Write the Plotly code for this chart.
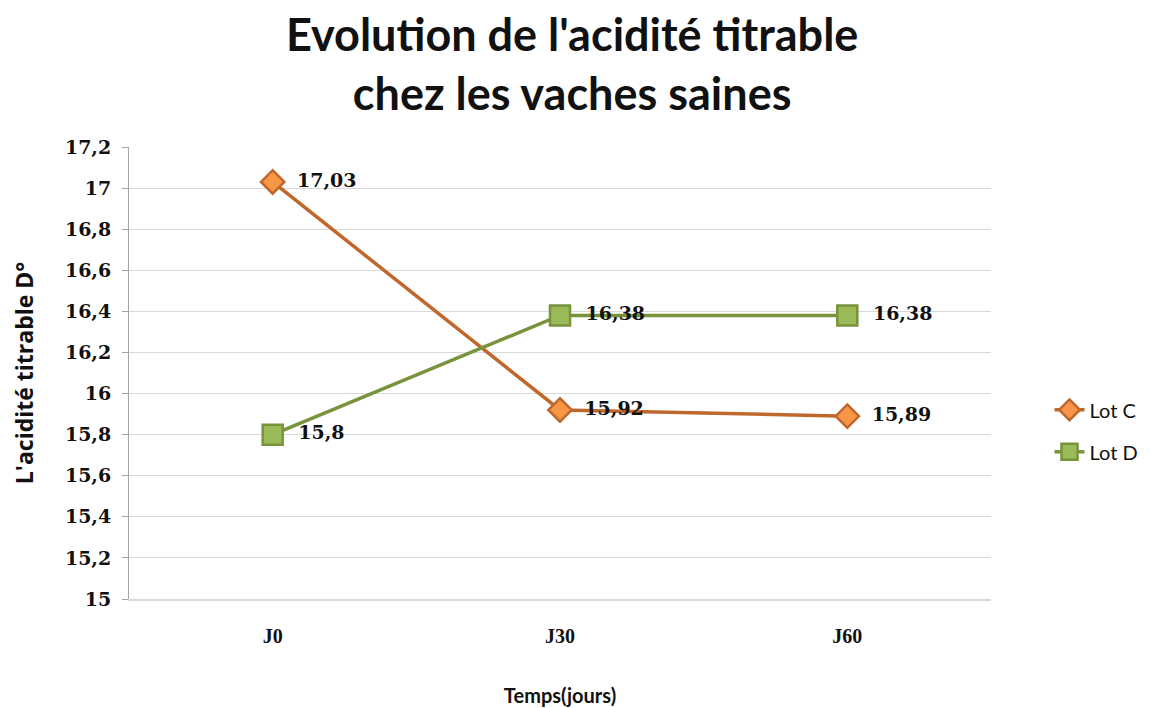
import plotly.graph_objects as go

# data
temps = ["J0", "J30", "J60"]
lot_c = [17.03, 15.92, 15.89]
lot_d = [15.8, 16.38, 16.38]
lot_c_labels = ["17,03", "15,92", "15,89"]
lot_d_labels = ["15,8", "16,38", "16,38"]

LABEL_FONT = dict(family="DejaVu Serif", size=19, color="#111111")


def main():
    fig = go.Figure()
    fig.add_trace(go.Scatter(
        x=temps, y=lot_c, name="Lot C", mode="lines+markers+text",
        text=lot_c_labels, texttemplate="\u00a0\u00a0<b>%{text}</b>",
        textposition="middle right", textfont=LABEL_FONT,
        line=dict(color="#C0672B", width=3.5),
        marker=dict(symbol="diamond", size=18, color="#F79646",
                    line=dict(color="#C0672B", width=2.5)),
        legendgroup="c",
    ))
    fig.add_trace(go.Scatter(
        x=temps, y=lot_d, name="Lot D", mode="lines+markers+text",
        text=lot_d_labels, texttemplate="\u00a0\u00a0<b>%{text}</b>",
        textposition="middle right", textfont=LABEL_FONT,
        line=dict(color="#77933C", width=3.5),
        marker=dict(symbol="square", size=20, color="#9BBB59",
                    line=dict(color="#77933C", width=2.5)),
        legendgroup="d",
    ))

    # the page body adds an 8px margin, so the figure is a bit smaller than the window
    fig.update_layout(
        width=1142, height=700,
        margin=dict(l=121, r=159, t=139, b=109),
        paper_bgcolor="white", plot_bgcolor="white",
        separators=", ",
        title=dict(
            text="<b>Evolution de l'acidité titrable<br>chez les vaches saines</b>",
            x=0.494, xanchor="center", y=0.938, yanchor="middle",
            font=dict(family="Lato", size=45, color="#111111"),
        ),
        legend=dict(
            xref="container", yref="container",
            x=0.912, xanchor="left", y=0.396, yanchor="middle",
            font=dict(family="Lato", size=20, color="#111111"),
            tracegroupgap=13, bgcolor="rgba(0,0,0,0)",
        ),
        showlegend=True,
    )
    fig.update_xaxes(
        type="category", range=[-0.5, 2.5], automargin=False,
        showline=True, linecolor="#D9D9D9", linewidth=2,
        showgrid=False, ticks="", ticklabelstandoff=18,
        tickfont=dict(family="Liberation Serif", size=20, color="#111111"),
        tickprefix="<b>", ticksuffix="</b>",
        title=dict(text="<b>Temps(jours)</b>", standoff=43,
                   font=dict(family="Lato", size=20, color="#111111")),
    )
    fig.update_yaxes(
        range=[15, 17.2], dtick=0.2, tick0=15, automargin=False,
        showline=True, linecolor="#A6A6A6", linewidth=1,
        ticks="outside", ticklen=6, tickcolor="#A6A6A6", ticklabelstandoff=7,
        showgrid=True, gridcolor="#D9D9D9", gridwidth=1,
        zeroline=False,
        tickfont=dict(family="DejaVu Serif", size=19, color="#111111"),
        tickprefix="<b>", ticksuffix="</b>",
        title=dict(text="<b>L'acidité titrable D°</b>", standoff=31,
                   font=dict(family="Open Sans", size=23, color="#111111")),
    )

    fig.write_html("out.html")


if __name__ == "__main__":
    main()
